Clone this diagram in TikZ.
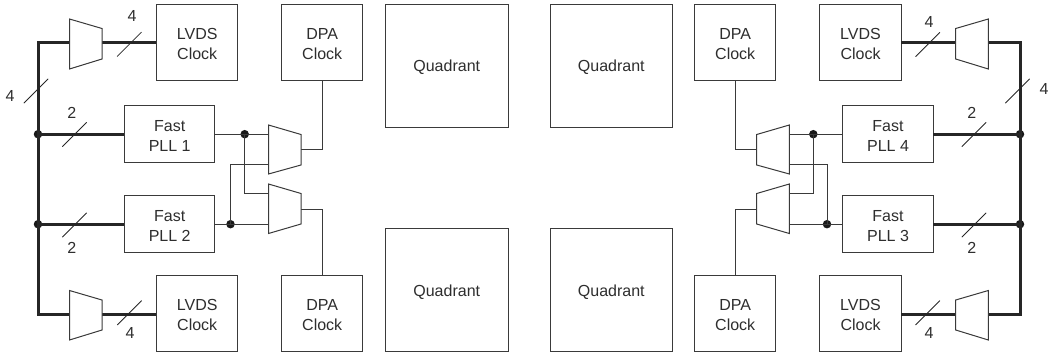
\documentclass[tikz,border=0pt]{standalone}
\usepackage{fontspec}
\setmainfont{Liberation Sans}
\definecolor{ink}{HTML}{3A3A3A}
\definecolor{txt}{HTML}{2E2E2E}
\newcommand\dn{\rule{0pt}{14.5pt}}
\tikzset{x=1pt,y=-1pt,
  blk/.style={draw=ink,line width=1pt,fill=white,inner sep=0pt,outer sep=0pt,align=center,text=txt,font=\fontsize{16}{20}\selectfont},
  lvds/.style={blk,minimum width=81.5pt,minimum height=76.5pt},
  pll/.style={blk,minimum width=90.5pt,minimum height=57.5pt},
  quad/.style={blk,minimum width=122.5pt,minimum height=123pt},
  muxs/.style={draw=ink,line width=1pt,fill=white},
  conn/.style={draw=ink,line width=1pt},
  bus/.style={draw=black!85,line width=3pt},
  slash/.style={draw=black!85,line width=.8pt},
  lab/.style={text=txt,inner sep=0pt,font=\fontsize{16}{18}\selectfont},
  jn/.style={circle,fill=black!90,draw=none,minimum size=8.5pt,inner sep=0pt}}
\begin{document}
\begin{tikzpicture}
\useasboundingbox (0,0) rectangle (1049,353);
% nodes
\node[lvds] (l1) at (197.2,42.7) {\dn LVDS\\Clock};
\node[lvds] (d1) at (322.2,42.7) {\dn DPA\\Clock};
\node[lvds] (l2) at (197.2,313.7) {\dn LVDS\\Clock};
\node[lvds] (d2) at (322.2,313.7) {\dn DPA\\Clock};
\node[lvds] (l3) at (860.5,42.7) {\dn LVDS\\Clock};
\node[lvds] (d3) at (735.2,42.7) {\dn DPA\\Clock};
\node[lvds] (l4) at (860.5,313.7) {\dn LVDS\\Clock};
\node[lvds] (d4) at (735.2,313.7) {\dn DPA\\Clock};
\node[pll] (p1) at (169.7,134.2) {\dn Fast\\PLL 1};
\node[pll] (p2) at (169.7,224.2) {\dn Fast\\PLL 2};
\node[pll] (p4) at (888,134.2) {\dn Fast\\PLL 4};
\node[pll] (p3) at (888,224.2) {\dn Fast\\PLL 3};
\node[quad] (q1) at (446.75,66) {\dn Quadrant};
\node[quad] (q2) at (446.75,290.4) {\dn Quadrant};
\node[quad] (q3) at (611.3,66) {\dn Quadrant};
\node[quad] (q4) at (611.3,290.4) {\dn Quadrant};
% coordinates
\coordinate (tl) at (38,43); \coordinate (bl) at (38,314.5);
\coordinate (tr) at (1020,43); \coordinate (br) at (1020,314.5);
\node[jn] (j1) at (38,134.2) {}; \node[jn] (j2) at (38,224.2) {};
\node[jn] (j3) at (1020,134.2) {}; \node[jn] (j4) at (1020,224.2) {};
\node[jn] (j5) at (244.7,134.2) {}; \node[jn] (j6) at (230.5,224.2) {};
\node[jn] (j7) at (813.3,134.2) {}; \node[jn] (j8) at (827,224.2) {};
% buses
\draw[bus] (l1.west|-tl) -- (tl) -- (bl) -- (l2.west|-bl);
\draw[bus] (l3.east|-tr) -- (tr) -- (br) -- (l4.east|-br);
\draw[bus] (j1.center) -- (p1.west); \draw[bus] (j2.center) -- (p2.west);
\draw[bus] (j3.center) -- (p4.east); \draw[bus] (j4.center) -- (p3.east);
% thin connectors
\draw[conn] (p1.east) -- (269,134.2);
\draw[conn] (p2.east) -- (269,224.2);
\draw[conn] (p4.west) -- (789,134.2);
\draw[conn] (p3.west) -- (789,224.2);
\draw[conn] (j5.center) |- (269,193.5);
\draw[conn] (j6.center) |- (269,164.5);
\draw[conn] (j7.center) |- (789,193.5);
\draw[conn] (j8.center) |- (789,164.5);
\draw[conn] (d1.south) |- (301,149.5);
\draw[conn] (d2.north) |- (301,209);
\draw[conn] (d3.south) |- (757,149.5);
\draw[conn] (d4.north) |- (757,209);
% muxes
\draw[muxs] (69.5,19) -- (102,28.5) -- (102,59) -- (69.5,69) -- cycle;
\draw[muxs] (69.5,290.5) -- (102,300) -- (102,330) -- (69.5,340) -- cycle;
\draw[muxs] (268.5,125) -- (301,134.5) -- (301,165) -- (268.5,174) -- cycle;
\draw[muxs] (268.5,184) -- (301,193.5) -- (301,224) -- (268.5,233.5) -- cycle;
\draw[muxs] (988.3,19) -- (955.7,28.5) -- (955.7,59) -- (988.3,69) -- cycle;
\draw[muxs] (988.3,290.5) -- (955.7,300) -- (955.7,330) -- (988.3,340) -- cycle;
\draw[muxs] (789.3,125) -- (756.7,134.5) -- (756.7,165) -- (789.3,174) -- cycle;
\draw[muxs] (789.3,184) -- (756.7,193.5) -- (756.7,224) -- (789.3,233.5) -- cycle;
% slashes
\foreach \cx/\cy in {129.3/44.3,129.5/312.8,36/91,74.5/134.5,74.5/225,927.7/44.5,927.7/312.8,1017.5/91,974/134.5,974/225}
  \draw[slash] (\cx-12.2,\cy+12.2) -- (\cx+12.2,\cy-12.2);
% labels
\node[lab] (n1) at (132,15.5) {4};
\node[lab] (n2) at (130,333) {4};
\node[lab] (n3) at (10,95.5) {4};
\node[lab] (n4) at (71.7,112.7) {2};
\node[lab] (n5) at (71.7,248) {2};
\node[lab] (n6) at (929,21.5) {4};
\node[lab] (n7) at (929,333) {4};
\node[lab] (n8) at (1044,88.5) {4};
\node[lab] (n9) at (971.7,112.7) {2};
\node[lab] (n10) at (971.7,248) {2};
\end{tikzpicture}
\end{document}
